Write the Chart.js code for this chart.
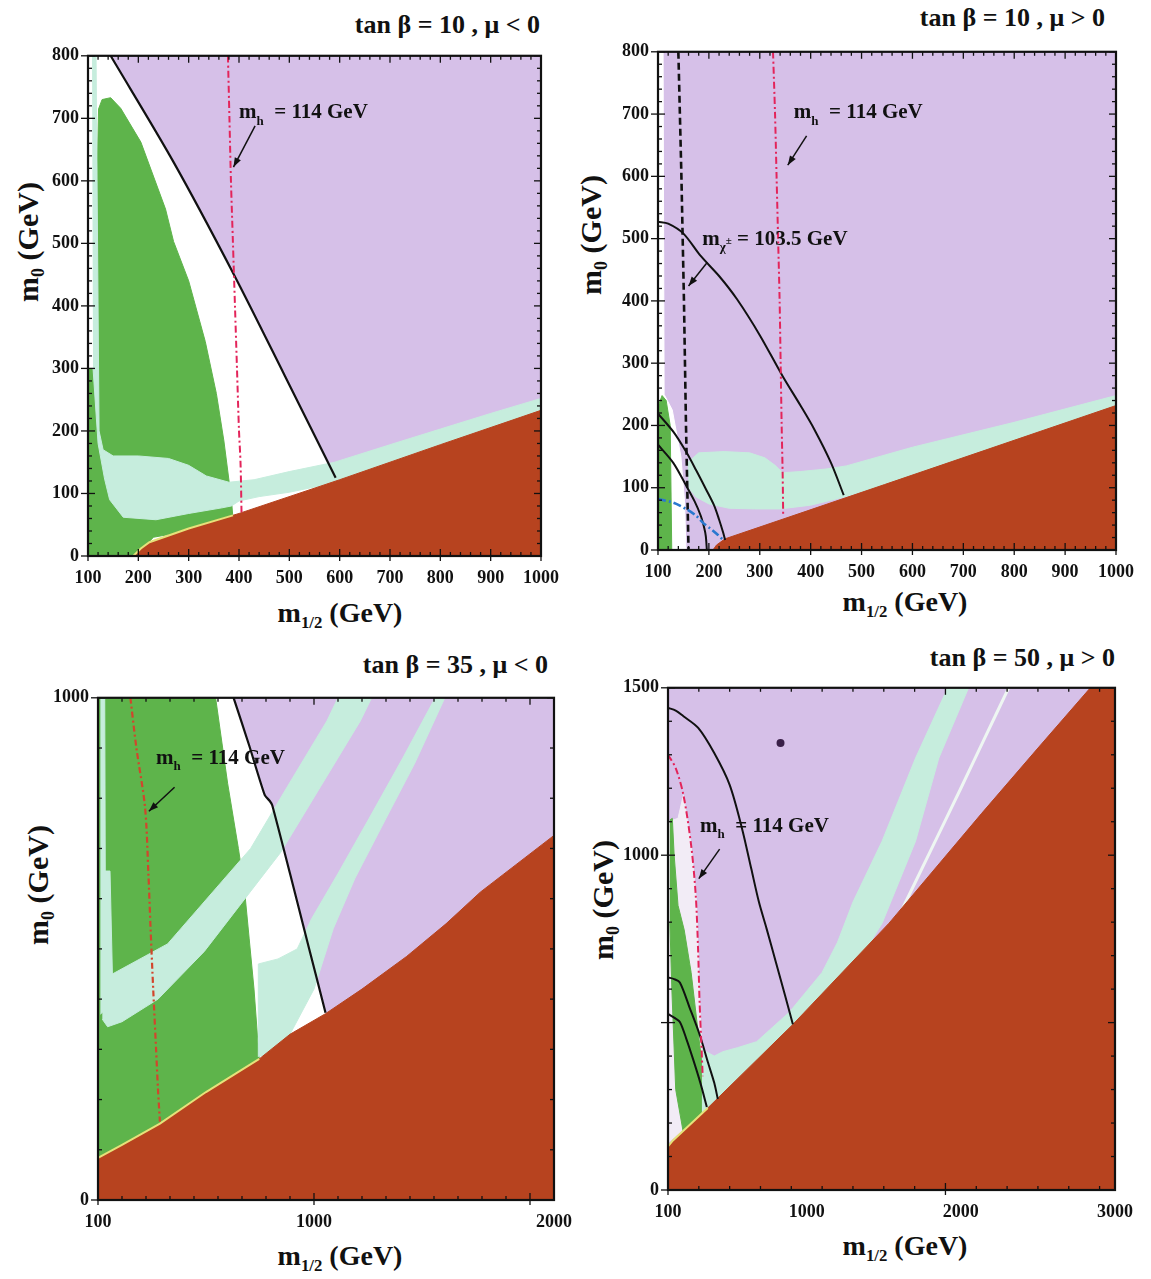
<!DOCTYPE html>
<html>
<head>
<meta charset="utf-8">
<script src="https://cdn.jsdelivr.net/npm/chart.js@4.4.0/dist/chart.umd.min.js"></script>
<style>
  body { margin: 0; background: #fff; width: 1151px; height: 1279px; position: relative; overflow: hidden;
         font-family: "Liberation Serif", "Times New Roman", serif; color: #111; }
  canvas { position: absolute; }
  .title { position: absolute; font-weight: bold; font-size: 26px; white-space: nowrap; transform: translateY(-50%); }
  .xt, .yt { position: absolute; font-weight: bold; white-space: nowrap; }
  .xt { font-size: 28px; transform: translate(-50%, -50%); }
  .yt { font-size: 30px; transform: translate(-50%, -50%) rotate(-90deg); }
  sub { font-size: 0.6em; vertical-align: -0.35em; }
</style>
</head>
<body>

<div class="title" style="right:611px;top:25px">tan β = 10 , μ &lt; 0</div>
<div class="title" style="right:46px;top:18px">tan β = 10 , μ &gt; 0</div>
<div class="title" style="right:603px;top:665px">tan β = 35 , μ &lt; 0</div>
<div class="title" style="right:36px;top:658px">tan β = 50 , μ &gt; 0</div>

<div class="yt" style="left:30px;top:242px">m<sub>0</sub> (GeV)</div>
<div class="yt" style="left:593px;top:235px">m<sub>0</sub> (GeV)</div>
<div class="yt" style="left:40px;top:885px">m<sub>0</sub> (GeV)</div>
<div class="yt" style="left:605px;top:900px">m<sub>0</sub> (GeV)</div>

<div class="xt" style="left:340px;top:615px">m<sub>1/2</sub> (GeV)</div>
<div class="xt" style="left:905px;top:604px">m<sub>1/2</sub> (GeV)</div>
<div class="xt" style="left:340px;top:1258px">m<sub>1/2</sub> (GeV)</div>
<div class="xt" style="left:905px;top:1248px">m<sub>1/2</sub> (GeV)</div>

<canvas id="c1"></canvas>
<canvas id="c2"></canvas>
<canvas id="c3"></canvas>
<canvas id="c4"></canvas>

<script>
// ---- data: [m1/2, m0] in GeV ----

// tan beta = 10, mu < 0
const p1XTicks = [100, 200, 300, 400, 500, 600, 700, 800, 900, 1000];
const p1YTicks = [0, 100, 200, 300, 400, 500, 600, 700, 800];
const p1White = [[100,0],[100,800],[145,800],[270,630],[390,450],[490,290],[592,125],[592,0]];
const p1Green = [[100,0],[100,300],[116,300],[118,600],[121,715],[128,730],[145,733],[165,716],[205,662],[254,555],[270,503],[300,440],[333,343],[355,260],[370,184],[385,90],[388,60],[300,40],[230,30],[195,0]];
const p1Cyan = [[108,800],[116,800],[118,600],[122,200],[130,170],[150,160],[200,160],[260,156],[300,145],[335,128],[380,118],[430,122],[500,135],[590,150],[700,178],[800,203],[900,228],[1000,252],[1000,233],[800,178],[600,122],[560,112],[500,102],[440,95],[400,88],[385,80],[366,77],[300,68],[235,58],[170,62],[143,90],[133,123],[120,180],[110,300]];
const p1Brown = [[190,0],[205,12],[222,22],[300,44],[400,68],[600,122],[800,178],[1000,233],[1000,0]];
const p1Edge = [[190,0],[205,12],[222,22],[300,44],[388,65]];
const p1Black = [[145,800],[270,630],[390,450],[490,290],[592,125]];
const p1Higgs = [[378,800],[381,700],[384,600],[388,500],[392,400],[396,300],[400,200],[403,150],[405,70]];

// tan beta = 10, mu > 0
const p2XTicks = [100, 200, 300, 400, 500, 600, 700, 800, 900, 1000];
const p2YTicks = [0, 100, 200, 300, 400, 500, 600, 700, 800];
const p2White = [[100,0],[100,800],[110,800],[112,250],[128,225],[145,150],[152,80],[155,0]];
const p2Green = [[102,0],[102,235],[108,248],[116,240],[124,200],[127,0]];
const p2Cyan = [[158,140],[180,156],[230,158],[280,156],[310,148],[330,136],[345,124],[380,126],[430,130],[470,135],[600,165],[800,205],[1000,248],[1000,232],[545,105],[470,86],[400,72],[340,66],[290,66],[240,67],[200,74],[175,85],[160,100]];
const p2Brown = [[208,0],[215,8],[232,18],[545,105],[1000,232],[1000,0]];
const p2Chargino = [[100,527],[120,524],[150,508],[183,473],[220,440],[255,403],[300,345],[345,279],[380,232],[407,194],[440,140],[465,88]];
const p2Inner1 = [[100,219],[130,190],[155,158],[175,128],[194,98],[210,72],[220,49],[228,28],[232,16]];
const p2Inner2 = [[100,169],[130,140],[155,104],[172,78],[184,55],[191,35],[194,22],[196,0]];
const p2Dashed = [[140,800],[146,600],[151,400],[155,200],[160,0]];
const p2Higgs = [[326,800],[330,700],[333,600],[336,500],[339,400],[341,300],[343,200],[345,120],[346,55]];
const p2Blue = [[100,82],[130,76],[155,66],[175,55],[188,44],[202,35],[214,27],[227,17]];

// tan beta = 35, mu < 0
const p3XTicks = [100, 1000, 2000];
const p3YTicks = [0, 1000];
const p3White = [[100,0],[100,1000],[665,1000],[795,806],[826,786],[1048,373],[1048,0]];
const p3Green = [[100,0],[100,1000],[590,1000],[640,830],[685,700],[710,620],[730,520],[750,420],[770,290],[770,0]];
const p3Strip = [[110,1000],[128,1000],[132,380],[110,370]];
const p3Band1 = [[118,655],[150,655],[160,450],[390,510],[736,700],[889,823],[1054,954],[1100,1000],[1240,1000],[1193,954],[1027,823],[861,692],[543,495],[350,400],[200,355],[140,345],[118,360]];
const p3Band2 = [[768,285],[768,470],[850,480],[930,500],[990,560],[1100,650],[1230,760],[1370,880],[1505,1000],[1545,1000],[1420,870],[1300,760],[1170,640],[1080,540],[1040,480],[1000,420],[900,330],[860,290]];
const p3Brown = [[100,0],[100,84],[200,110],[358,152],[550,215],[772,281],[900,330],[1048,371],[1200,420],[1386,485],[1550,550],[1693,613],[2000,726],[2000,0]];
const p3Edge = [[100,84],[200,110],[358,152],[550,215],[772,281]];
const p3Black = [[665,1000],[730,905],[795,806],[815,795],[826,786],[900,650],[980,500],[1048,373]];
const p3Higgs = [[235,1000],[260,900],[296,782],[310,650],[319,541],[330,420],[342,300],[350,220],[358,156]];

// tan beta = 50, mu > 0
const p4XTicks = [100, 1000, 2000, 3000];
const p4YTicks = [0, 1000, 1500];
const p4White = [[100,140],[100,1100],[165,1110],[200,1180],[250,1030],[285,860],[305,560],[320,420],[325,300],[358,245]];
const p4Green = [[112,1105],[128,1110],[140,1000],[165,850],[205,777],[250,650],[296,470],[342,300],[350,250],[250,190],[200,170],[150,300],[125,600],[112,800]];
const p4Cyan = [[320,420],[400,400],[455,413],[550,425],[675,443],[887,531],[1100,650],[1200,740],[1300,860],[1489,1042],[1706,1290],[1900,1485],[1912,1500],[2050,1500],[1857,1290],[1706,1042],[1489,797],[1400,730],[907,480],[358,235],[320,225]];
const p4Thin = [[1610,830],[1800,1010],[2000,1200],[2150,1345],[2310,1500]];
const p4Brown = [[100,0],[100,130],[132,148],[358,245],[907,493],[1276,672],[1534,797],[2135,1125],[2500,1320],[2840,1500],[3000,1500],[3000,0]];
const p4Edge = [[100,130],[132,148],[358,245]];
const p4Big = [[100,1440],[150,1432],[200,1415],[296,1380],[400,1305],[500,1210],[580,1080],[640,960],[690,860],[740,780],[800,680],[860,580],[910,495]];
const p4Inner1 = [[100,635],[140,630],[177,620],[240,545],[306,463],[360,380],[400,320],[423,272]];
const p4Inner2 = [[100,526],[140,515],[177,502],[220,450],[261,393],[310,320],[352,248]];
const p4Higgs = [[100,1300],[150,1260],[200,1180],[250,1030],[280,880],[295,720],[305,560],[318,420],[325,340]];
const p4Dot = [[830,1335]];

// ---- styling ----
const PURPLE = '#d6c0e8';
const GREEN = '#5eb44b';
const CYAN = '#c6eddd';
const BROWN = '#b7431f';
const WHITE = '#ffffff';
const EDGE = '#e6e27a';
const INK = '#111';
const FONT = '"Liberation Serif", "Times New Roman", serif';

const toXY = pts => pts.map(([x, y]) => ({x, y}));
const area = (pts, color) => ({data: toXY(pts), showLine: true, fill: 'shape', backgroundColor: color,
  borderColor: color, borderWidth: 1, pointRadius: 0, tension: 0});
const curve = (pts, color, width, dash, tension) => ({data: toXY(pts), showLine: true, fill: false,
  borderColor: color, borderWidth: width, borderDash: dash || [], pointRadius: 0, tension: tension === undefined ? 0.35 : tension});

const bgPlugin = {
  id: 'plotBg',
  beforeDatasetsDraw(chart) {
    const {ctx, chartArea: a} = chart;
    ctx.save();
    ctx.fillStyle = PURPLE;
    ctx.fillRect(a.left, a.top, a.right - a.left, a.bottom - a.top);
    ctx.restore();
  }
};

function onStep(v, base, step) {
  const k = (v - base) / step;
  return Math.abs(k - Math.round(k)) < 1e-6;
}

const framePlugin = {
  id: 'frame',
  afterDatasetsDraw(chart, args, o) {
    const {ctx, chartArea: a, scales: {x, y}} = chart;
    ctx.save();
    ctx.strokeStyle = INK;
    ctx.lineWidth = 1.3;
    const seg = (x1, y1, x2, y2) => { ctx.beginPath(); ctx.moveTo(x1, y1); ctx.lineTo(x2, y2); ctx.stroke(); };
    for (let v = x.min; v <= x.max + 1e-6; v += o.xMinor) {
      const p = x.getPixelForValue(v);
      const big = onStep(v, o.xBase, o.xMajor);
      const L = big ? 7 : 4;
      seg(p, a.bottom, p, a.bottom - L);
      seg(p, a.top, p, a.top + L);
      if (big) seg(p, a.bottom, p, a.bottom + 5);
    }
    for (let v = y.min; v <= y.max + 1e-6; v += o.yMinor) {
      const p = y.getPixelForValue(v);
      const big = onStep(v, 0, o.yMajor);
      const L = big ? 7 : 4;
      seg(a.left, p, a.left + L, p);
      seg(a.right, p, a.right - L, p);
      if (big) seg(a.left, p, a.left - 7, p);
    }
    ctx.lineWidth = 2.2;
    ctx.strokeRect(a.left, a.top, a.right - a.left, a.bottom - a.top);
    ctx.restore();
  }
};

const notesPlugin = {
  id: 'notes',
  afterDraw(chart, args, o) {
    const {ctx, scales: {x, y}} = chart;
    ctx.save();
    ctx.fillStyle = INK;
    ctx.strokeStyle = INK;
    (o.items || []).forEach(n => {
      if (n.type === 'label') {
        let px = x.getPixelForValue(n.x);
        const py = y.getPixelForValue(n.y);
        const s = n.size;
        ctx.textBaseline = 'alphabetic';
        ctx.font = `bold ${s}px ${FONT}`;
        ctx.fillText(n.main, px, py);
        px += ctx.measureText(n.main).width;
        ctx.font = `bold ${Math.round(s * 0.62)}px ${FONT}`;
        ctx.fillText(n.sub, px, py + s * 0.3);
        let w = ctx.measureText(n.sub).width;
        if (n.sup) {
          ctx.font = `bold ${Math.round(s * 0.5)}px ${FONT}`;
          ctx.fillText(n.sup, px + w, py - s * 0.05);
          w += ctx.measureText(n.sup).width;
        }
        px += w;
        ctx.font = `bold ${s}px ${FONT}`;
        ctx.fillText(n.rest, px, py);
      } else if (n.type === 'arrow') {
        const x1 = x.getPixelForValue(n.from[0]), y1 = y.getPixelForValue(n.from[1]);
        const x2 = x.getPixelForValue(n.to[0]), y2 = y.getPixelForValue(n.to[1]);
        const ang = Math.atan2(y2 - y1, x2 - x1);
        ctx.lineWidth = 1.5;
        ctx.beginPath(); ctx.moveTo(x1, y1); ctx.lineTo(x2, y2); ctx.stroke();
        ctx.beginPath();
        ctx.moveTo(x2, y2);
        ctx.lineTo(x2 - 10 * Math.cos(ang - 0.35), y2 - 10 * Math.sin(ang - 0.35));
        ctx.lineTo(x2 - 10 * Math.cos(ang + 0.35), y2 - 10 * Math.sin(ang + 0.35));
        ctx.closePath();
        ctx.fill();
      }
    });
    ctx.restore();
  }
};

function makePanel(id, rect, xRange, yRange, xTicks, yTicks, ticksCfg, layers, notes) {
  const padL = 62, padT = 14, padR = 28, padB = 44;
  const cv = document.getElementById(id);
  cv.width = rect.w + padL + padR;
  cv.height = rect.h + padT + padB;
  cv.style.left = (rect.x - padL) + 'px';
  cv.style.top = (rect.y - padT) + 'px';
  const tickFont = {family: FONT, weight: 'bold', size: 18};
  new Chart(cv, {
    type: 'scatter',
    data: {datasets: layers.map((d, i) => Object.assign(d, {order: layers.length - i}))},
    options: {
      responsive: false,
      animation: false,
      events: [],
      layout: {padding: {left: 0, top: padT, right: padR, bottom: 0}, autoPadding: false},
      plugins: {
        legend: {display: false},
        tooltip: {enabled: false},
        frame: ticksCfg,
        notes: {items: notes}
      },
      scales: {
        x: {
          type: 'linear', min: xRange[0], max: xRange[1],
          grid: {display: false, drawTicks: false}, border: {display: false},
          afterBuildTicks: s => { s.ticks = xTicks.map(v => ({value: v})); },
          afterFit: s => { s.height = padB; },
          ticks: {padding: 12, font: tickFont, color: INK, maxRotation: 0, autoSkip: false, callback: v => String(v)}
        },
        y: {
          type: 'linear', min: yRange[0], max: yRange[1],
          grid: {display: false, drawTicks: false}, border: {display: false},
          afterBuildTicks: s => { s.ticks = yTicks.map(v => ({value: v})); },
          afterFit: s => { s.width = padL; },
          ticks: {padding: 9, font: tickFont, color: INK, autoSkip: false, callback: v => String(v)}
        }
      }
    },
    plugins: [bgPlugin, framePlugin, notesPlugin]
  });
}

const HIGGS = '#e3245a';

makePanel('c1', {x: 88, y: 50, w: 455, h: 506}, [100, 1000], [0, 800], p1XTicks, p1YTicks,
  {xMinor: 20, xMajor: 100, xBase: 100, yMinor: 20, yMajor: 100},
  [
    area(p1White, WHITE),
    area(p1Green, GREEN),
    area(p1Cyan, CYAN),
    area(p1Brown, BROWN),
    curve(p1Edge, EDGE, 2, [], 0),
    curve(p1Black, INK, 2.2, [], 0.3),
    curve(p1Higgs, HIGGS, 2, [7, 3, 2, 3], 0.3)
  ],
  [
    {type: 'label', x: 400, y: 700, main: 'm', sub: 'h', rest: '  = 114 GeV', size: 21},
    {type: 'arrow', from: [432, 688], to: [389, 622]}
  ]);

makePanel('c2', {x: 658, y: 46, w: 460, h: 504}, [100, 1000], [0, 800], p2XTicks, p2YTicks,
  {xMinor: 20, xMajor: 100, xBase: 100, yMinor: 20, yMajor: 100},
  [
    area(p2White, WHITE),
    area(p2Green, GREEN),
    area(p2Cyan, CYAN),
    area(p2Brown, BROWN),
    curve(p2Chargino, INK, 2, [], 0.3),
    curve(p2Inner1, INK, 2, [], 0.3),
    curve(p2Inner2, INK, 2, [], 0.3),
    curve(p2Dashed, INK, 2.6, [7, 4], 0),
    curve(p2Higgs, HIGGS, 2, [7, 3, 2, 3], 0.3),
    curve(p2Blue, '#2a78d0', 2.6, [8, 3, 2, 3], 0.3)
  ],
  [
    {type: 'label', x: 367, y: 693, main: 'm', sub: 'h', rest: '  = 114 GeV', size: 21},
    {type: 'arrow', from: [392, 665], to: [355, 618]},
    {type: 'label', x: 187, y: 490, main: 'm', sub: 'χ', sup: '±', rest: ' = 103.5 GeV', size: 21},
    {type: 'arrow', from: [197, 462], to: [160, 424]}
  ]);

makePanel('c3', {x: 98, y: 692, w: 458, h: 508}, [100, 2000], [0, 1000], p3XTicks, p3YTicks,
  {xMinor: 100, xMajor: 900, xBase: 100, yMinor: 100, yMajor: 1000},
  [
    area(p3White, WHITE),
    area(p3Green, GREEN),
    area(p3Strip, CYAN),
    area(p3Band1, CYAN),
    area(p3Band2, CYAN),
    area(p3Brown, BROWN),
    curve(p3Edge, EDGE, 2, [], 0),
    curve(p3Black, INK, 2.2, [], 0.2),
    curve(p3Higgs, '#d2452c', 2.2, [6, 3, 2, 3], 0.3)
  ],
  [
    {type: 'label', x: 342, y: 868, main: 'm', sub: 'h', rest: '  = 114 GeV', size: 21},
    {type: 'arrow', from: [419, 822], to: [312, 774]}
  ]);

makePanel('c4', {x: 668, y: 682, w: 449, h: 508}, [100, 3000], [0, 1500], p4XTicks, p4YTicks,
  {xMinor: 200, xMajor: 900, xBase: 100, yMinor: 100, yMajor: 500},
  [
    area(p4White, '#f2ecf6'),
    area(p4Green, GREEN),
    area(p4Cyan, CYAN),
    curve(p4Thin, '#eef6f2', 3, [], 0.2),
    area(p4Brown, BROWN),
    curve(p4Edge, EDGE, 2, [], 0),
    curve(p4Big, INK, 2, [], 0.3),
    curve(p4Inner1, INK, 2, [], 0.3),
    curve(p4Inner2, INK, 2, [], 0.3),
    curve(p4Higgs, HIGGS, 2, [7, 3, 2, 3], 0.3),
    {data: toXY(p4Dot), showLine: false, pointRadius: 4, pointBackgroundColor: '#3a2048', pointBorderWidth: 0}
  ],
  [
    {type: 'label', x: 308, y: 1070, main: 'm', sub: 'h', rest: '  = 114 GeV', size: 21},
    {type: 'arrow', from: [435, 1018], to: [300, 930]}
  ]);
</script>
</body>
</html>
